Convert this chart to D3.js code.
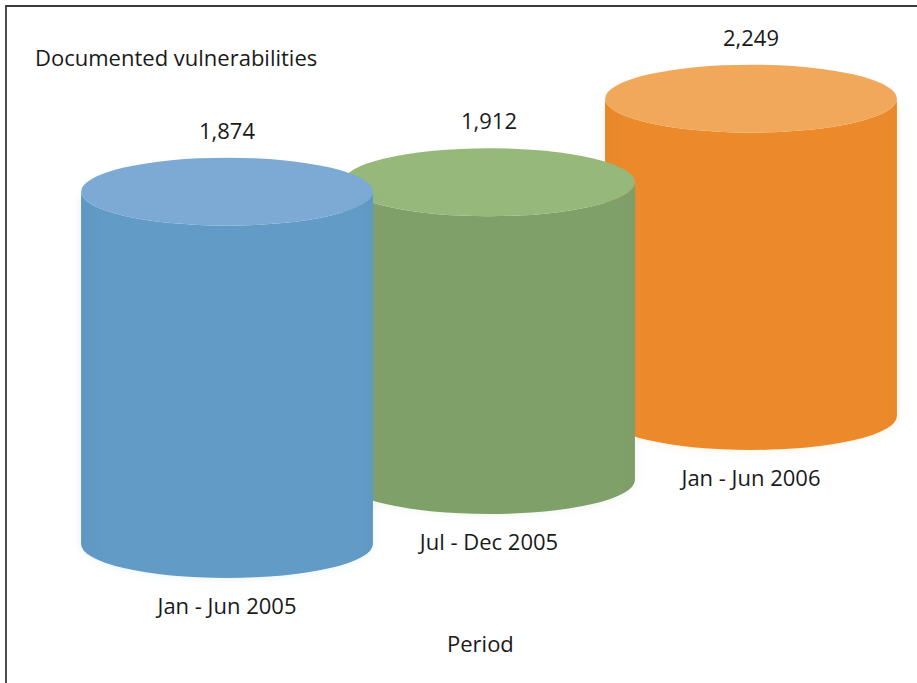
<!DOCTYPE html>
<html>
<head>
<meta charset="utf-8">
<script src="https://cdn.jsdelivr.net/npm/d3@7"></script>
<style>
  html, body { margin: 0; padding: 0; background: #fff; }
  svg { display: block; }
  text { font-family: "Open Sans", "Noto Sans", sans-serif; fill: #1a1a1a; }
</style>
</head>
<body>
<svg id="chart" width="917" height="683"></svg>
<script>
const categories = ["Jan - Jun 2005", "Jul - Dec 2005", "Jan - Jun 2006"];
const values = [1874, 1912, 2249];
const sideColors = ["#619bc6", "#80a06a", "#ec8a2b"];
const topColors = ["#7caad4", "#96b87b", "#f1a85a"];
const yTitle = "Documented vulnerabilities";
const xTitle = "Period";

const W = 917, H = 683;
const FS = 22;
const svg = d3.select("#chart");

// frame (right and bottom edges are cropped off in the reference)
svg.append("path")
  .attr("d", `M6,${H + 5} L6,6 L${W + 5},6`)
  .attr("fill", "none")
  .attr("stroke", "#3a3a3a")
  .attr("stroke-width", 1.8);

// horizontal position of each cylinder
const x = d3.scalePoint().domain(categories).range([227, 751]);
// perspective depth: baseline of each cylinder
const base = d3.scalePoint().domain(categories).range([544, 416]);
// value -> top of cylinder
const y = d3.scaleLinear().domain([1800, 2300]).range([210, 86]);

const rx = x.step() * 0.557;
const ry = 34;

const data = categories.map((c, i) => ({
  cat: c, value: values[i], side: sideColors[i], top: topColors[i], i
}));

// subtle side gradients
const defs = svg.append("defs");
data.forEach(d => {
  const g = defs.append("linearGradient")
    .attr("id", "side" + d.i).attr("x1", "0").attr("x2", "1").attr("y1", "0").attr("y2", "0");
  const c = d3.color(d.side);
  g.append("stop").attr("offset", "0").attr("stop-color", c.darker(0.06));
  g.append("stop").attr("offset", "0.08").attr("stop-color", c);
  g.append("stop").attr("offset", "0.94").attr("stop-color", c);
  g.append("stop").attr("offset", "1").attr("stop-color", c.darker(0.05));
});
const blur = defs.append("filter").attr("id", "glow").attr("x", "-10%").attr("y", "-10%")
  .attr("width", "120%").attr("height", "120%");
blur.append("feGaussianBlur").attr("stdDeviation", 4);

// back to front: last category drawn first
const order = data.slice().reverse();
const cyl = svg.selectAll("g.cyl").data(order).enter().append("g").attr("class", "cyl");

cyl.each(function(d) {
  const g = d3.select(this);
  const cx = x(d.cat), topY = y(d.value), botY = base(d.cat);
  const l = cx - rx, r = cx + rx;
  const sidePath = `M${l},${topY} L${l},${botY} A${rx},${ry} 0 0 0 ${r},${botY} L${r},${topY} A${rx},${ry} 0 0 1 ${l},${topY} Z`;
  g.append("path").attr("d", sidePath)
    .attr("fill", d3.color(d.side).copy({opacity: 0.15}))
    .attr("filter", "url(#glow)");
  g.append("path").attr("d", sidePath).attr("fill", `url(#side${d.i})`);
  g.append("ellipse")
    .attr("cx", cx).attr("cy", topY).attr("rx", rx).attr("ry", ry)
    .attr("fill", d.top);
});

// value labels
svg.selectAll("text.val").data(data).enter().append("text")
  .attr("class", "val")
  .attr("x", d => x(d.cat))
  .attr("y", d => y(d.value) - ry - 19)
  .attr("text-anchor", "middle")
  .attr("font-size", FS)
  .text(d => d3.format(",")(d.value));

// category labels
svg.selectAll("text.cat").data(data).enter().append("text")
  .attr("class", "cat")
  .attr("x", d => x(d.cat))
  .attr("y", d => base(d.cat) + ry + 36)
  .attr("text-anchor", "middle")
  .attr("font-size", FS)
  .text(d => d.cat);

svg.append("text")
  .attr("x", 35).attr("y", 66)
  .attr("font-size", FS)
  .text(yTitle);

svg.append("text")
  .attr("x", x(categories[1]) - 42).attr("y", 652)
  .attr("font-size", FS)
  .text(xTitle);
</script>
</body>
</html>
